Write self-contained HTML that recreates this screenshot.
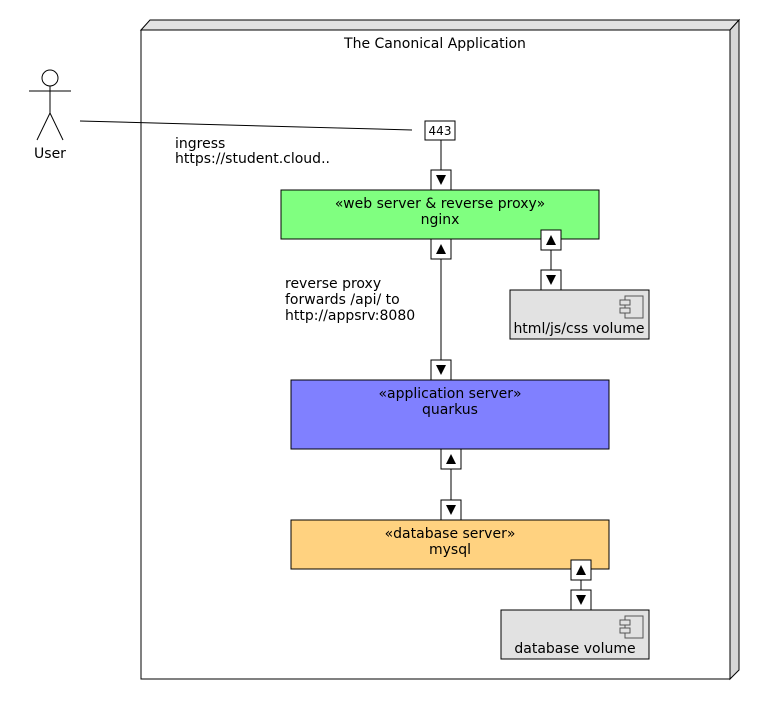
<!DOCTYPE html>
<html><head><meta charset="utf-8"><style>
html,body{margin:0;padding:0;background:#fff;}
svg text{font-family:"DejaVu Sans","Liberation Sans",sans-serif;font-size:14px;fill:#000;}
</style></head><body>
<svg width="760" height="700" viewBox="0 0 760 700" xmlns="http://www.w3.org/2000/svg">
<polygon points="141,30 150,20 739,20 730,30" fill="#e2e2e2" stroke="#000" stroke-width="1"/>
<polygon points="730,30 739,20 739,670 730,679" fill="#d6d6d6" stroke="#000" stroke-width="1"/>
<rect x="141" y="30" width="589" height="649" fill="#fff" stroke="#000" stroke-width="1"/>
<text x="435" y="48" text-anchor="middle">The Canonical Application</text>

<circle cx="50" cy="78" r="8" fill="#fff" stroke="#000"/>
<line x1="50" y1="86" x2="50" y2="113" stroke="#000"/>
<line x1="29" y1="91" x2="71" y2="91" stroke="#000"/>
<line x1="50" y1="113" x2="37" y2="140" stroke="#000"/>
<line x1="50" y1="113" x2="63" y2="140" stroke="#000"/>
<text x="50" y="158" text-anchor="middle">User</text>
<line x1="80" y1="121" x2="412" y2="130" stroke="#000"/>
<text x="175" y="148">ingress</text>
<text x="175" y="163">https://student.cloud..</text>

<rect x="425" y="121" width="30" height="19" fill="#fff" stroke="#000"/>
<text x="440" y="135" text-anchor="middle" style="font-size:12px">443</text>
<line x1="441" y1="140" x2="441" y2="170" stroke="#000"/>

<line x1="441" y1="259" x2="441" y2="360" stroke="#000"/>
<line x1="551" y1="250" x2="551" y2="270" stroke="#000"/>
<line x1="451" y1="469" x2="451" y2="500" stroke="#000"/>
<line x1="581" y1="580" x2="581" y2="590" stroke="#000"/>

<rect x="281" y="190" width="318" height="49" fill="#80ff80" stroke="#000"/>
<text x="440" y="208" text-anchor="middle">«web server &amp; reverse proxy»</text>
<text x="440" y="224" text-anchor="middle">nginx</text>

<rect x="291" y="380" width="318" height="69" fill="#8080ff" stroke="#000"/>
<text x="450" y="398" text-anchor="middle">«application server»</text>
<text x="450" y="414" text-anchor="middle">quarkus</text>

<rect x="291" y="520" width="318" height="49" fill="#ffd280" stroke="#000"/>
<text x="450" y="538" text-anchor="middle">«database server»</text>
<text x="450" y="554" text-anchor="middle">mysql</text>

<rect x="510" y="290" width="139" height="49" fill="#e2e2e2" stroke="#000"/>
<text x="579" y="333" text-anchor="middle">html/js/css volume</text>
<g fill="none" stroke="#555" stroke-width="1">
<rect x="625" y="296" width="18" height="22"/>
<rect x="620" y="300" width="10" height="5" fill="#e2e2e2"/>
<rect x="620" y="308" width="10" height="5" fill="#e2e2e2"/>
</g>

<rect x="501" y="610" width="148" height="49" fill="#e2e2e2" stroke="#000"/>
<text x="575" y="653" text-anchor="middle">database volume</text>
<g fill="none" stroke="#555" stroke-width="1">
<rect x="625" y="616" width="18" height="22"/>
<rect x="620" y="620" width="10" height="5" fill="#e2e2e2"/>
<rect x="620" y="628" width="10" height="5" fill="#e2e2e2"/>
</g>

<g stroke="#000" fill="#fff">
<rect x="431" y="170" width="20" height="20"/>
<rect x="541" y="270" width="20" height="20"/>
<rect x="431" y="360" width="20" height="20"/>
<rect x="441" y="500" width="20" height="20"/>
<rect x="571" y="590" width="20" height="20"/>
<rect x="431" y="239" width="20" height="20"/>
<rect x="541" y="230" width="20" height="20"/>
<rect x="441" y="449" width="20" height="20"/>
<rect x="571" y="560" width="20" height="20"/>
</g>
<g fill="#000">
<polygon points="436,175 446,175 441,185"/>
<polygon points="546,275 556,275 551,285"/>
<polygon points="436,365 446,365 441,375"/>
<polygon points="446,505 456,505 451,515"/>
<polygon points="576,595 586,595 581,605"/>
<polygon points="436,254 446,254 441,244"/>
<polygon points="546,245 556,245 551,235"/>
<polygon points="446,464 456,464 451,454"/>
<polygon points="576,575 586,575 581,565"/>
</g>

<text x="285" y="288">reverse proxy</text>
<text x="285" y="304">forwards /api/ to</text>
<text x="285" y="320">http://appsrv:8080</text>
</svg>
</body></html>
